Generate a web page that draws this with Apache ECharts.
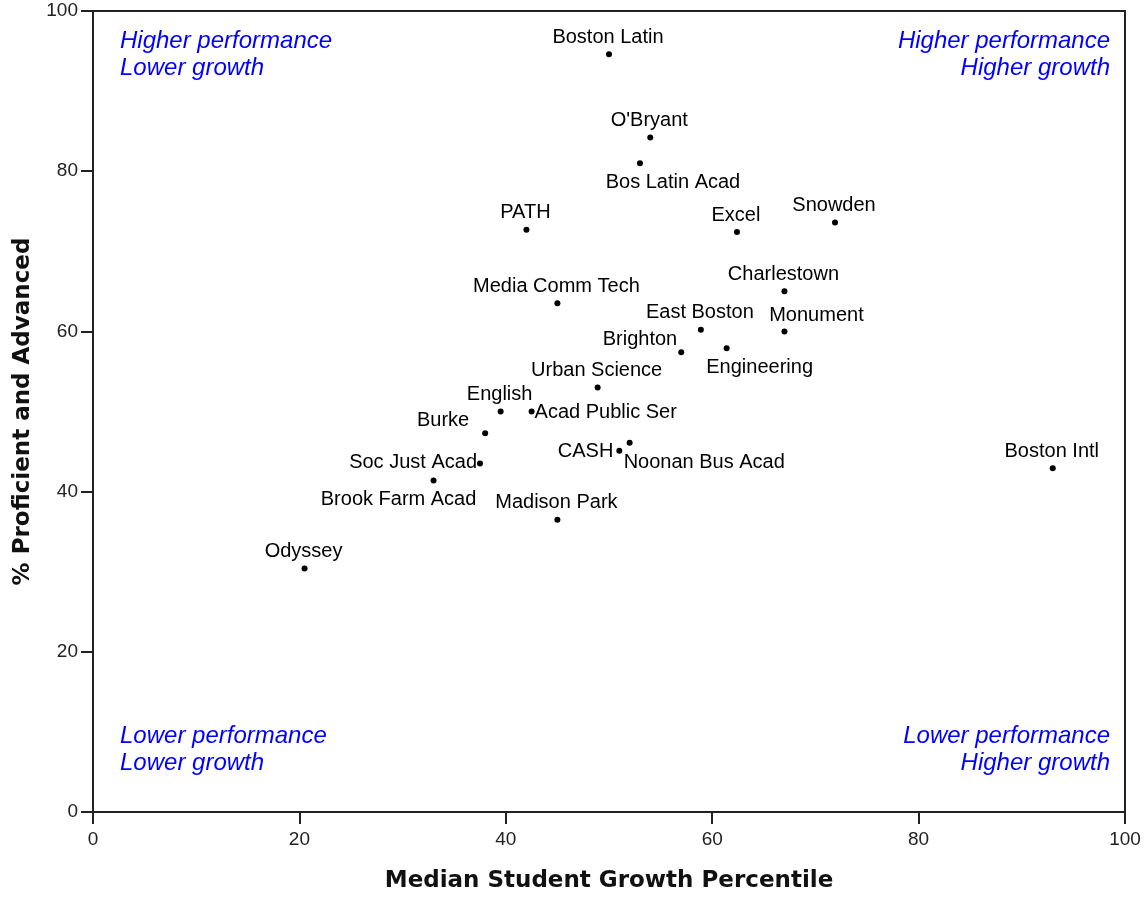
<!DOCTYPE html>
<html>
<head>
<meta charset="utf-8">
<script src="https://cdn.jsdelivr.net/npm/echarts@6/dist/echarts.min.js"></script>
<style>
  html, body { margin: 0; padding: 0; background: #fff; }
  #main { width: 1146px; height: 898px; }
</style>
</head>
<body>
<div id="main"></div>
<script>
// school names and values
var schools = ['Boston Latin', "O'Bryant", 'Bos Latin Acad', 'PATH', 'Excel', 'Snowden',
  'Media Comm Tech', 'Charlestown', 'East Boston', 'Monument', 'Brighton', 'Engineering',
  'Urban Science', 'English', 'Acad Public Ser', 'Burke', 'CASH', 'Noonan Bus Acad',
  'Soc Just Acad', 'Brook Farm Acad', 'Madison Park', 'Odyssey', 'Boston Intl'];
var growth = [50, 54, 53, 42, 62.4, 71.9,
  45, 67, 58.9, 67, 57, 61.4,
  48.9, 39.5, 42.5, 38, 51, 52,
  37.5, 33, 45, 20.5, 93];
var proficient = [94.6, 84.2, 81, 72.7, 72.4, 73.6,
  63.5, 65, 60.2, 60, 57.4, 57.9,
  53, 50, 50, 47.3, 45.1, 46.1,
  43.5, 41.4, 36.5, 30.4, 42.9];
var xTicks = [0, 20, 40, 60, 80, 100];
var yTicks = [0, 20, 40, 60, 80, 100];

// where each label sits relative to its dot (default: centred above)
var labelPos = {
  'Bos Latin Acad': { offset: [33, 19], align: 'center' },
  'Monument': { offset: [32, -16], align: 'center' },
  'Brighton': { offset: [-4, -13], align: 'right' },
  'Engineering': { offset: [33, 19], align: 'center' },
  'Acad Public Ser': { offset: [3, 1], align: 'left' },
  'Burke': { offset: [-16, -13], align: 'right' },
  'CASH': { offset: [-6, 1], align: 'right' },
  'Noonan Bus Acad': { offset: [-6, 20], align: 'left' },
  'Soc Just Acad': { offset: [-3, -1], align: 'right' },
  'Brook Farm Acad': { offset: [-35, 19], align: 'center' }
};
function posOf(name) {
  return labelPos[name] || { offset: [-1, -17], align: 'center' };
}

var font = 'Liberation Sans';
var points = schools.map(function (name, i) {
  return {
    name: name,
    value: [growth[i], proficient[i]],
    label: { align: posOf(name).align }
  };
});

var chart = echarts.init(document.getElementById('main'));
var quadFont = 'italic 24px "Liberation Sans"';
function quad(text, side, top) {
  var el = { type: 'text', top: top, style: { text: text, font: quadFont, fill: '#0000ff' } };
  el[side] = side === 'left' ? 120 : 36;
  return el;
}
var option = {
  backgroundColor: '#fff',
  animation: false,
  grid: {
    left: 93, right: 21, top: 11, bottom: 85,
    show: true, borderColor: '#222', borderWidth: 2
  },
  xAxis: {
    type: 'value', min: 0, max: 100, interval: 20,
    name: 'Median Student Growth Percentile',
    nameLocation: 'middle', nameGap: 58,
    nameTextStyle: { fontFamily: 'DejaVu Sans', fontWeight: 'bold', fontSize: 23, color: '#111' },
    axisLine: { lineStyle: { color: '#222', width: 2 } },
    axisTick: { show: true, length: 12, lineStyle: { color: '#222', width: 2 } },
    axisLabel: { margin: 18, fontFamily: font, fontSize: 19, color: '#222',
      formatter: function (v) { return xTicks.indexOf(v) >= 0 ? v : ''; } },
    splitLine: { show: false }
  },
  yAxis: {
    type: 'value', min: 0, max: 100, interval: 20,
    name: '% Proficient and Advanced',
    nameLocation: 'middle', nameGap: 58, nameRotate: 90,
    nameTextStyle: { fontFamily: 'DejaVu Sans', fontWeight: 'bold', fontSize: 23, color: '#111' },
    axisLine: { lineStyle: { color: '#222', width: 2 } },
    axisTick: { show: true, length: 12, lineStyle: { color: '#222', width: 2 } },
    axisLabel: { margin: 15, fontFamily: font, fontSize: 19, color: '#222',
      formatter: function (v) { return yTicks.indexOf(v) >= 0 ? v : ''; } },
    splitLine: { show: false }
  },
  graphic: [
    quad('Higher performance', 'left', 29),
    quad('Lower growth', 'left', 56),
    quad('Higher performance', 'right', 29),
    quad('Higher growth', 'right', 56),
    quad('Lower performance', 'left', 724),
    quad('Lower growth', 'left', 751),
    quad('Lower performance', 'right', 724),
    quad('Higher growth', 'right', 751)
  ],
  series: [{
    type: 'scatter',
    symbol: 'circle',
    symbolSize: 6,
    itemStyle: { color: '#000', opacity: 1 },
    label: {
      show: true,
      position: 'inside',
      verticalAlign: 'middle',
      formatter: '{b}',
      fontFamily: font,
      fontSize: 20,
      color: '#000'
    },
    labelLayout: function (params) {
      var p = posOf(schools[params.dataIndex]);
      return { dx: p.offset[0], dy: p.offset[1], hideOverlap: false };
    },
    data: points
  }]
};
chart.setOption(option);
</script>
</body>
</html>
